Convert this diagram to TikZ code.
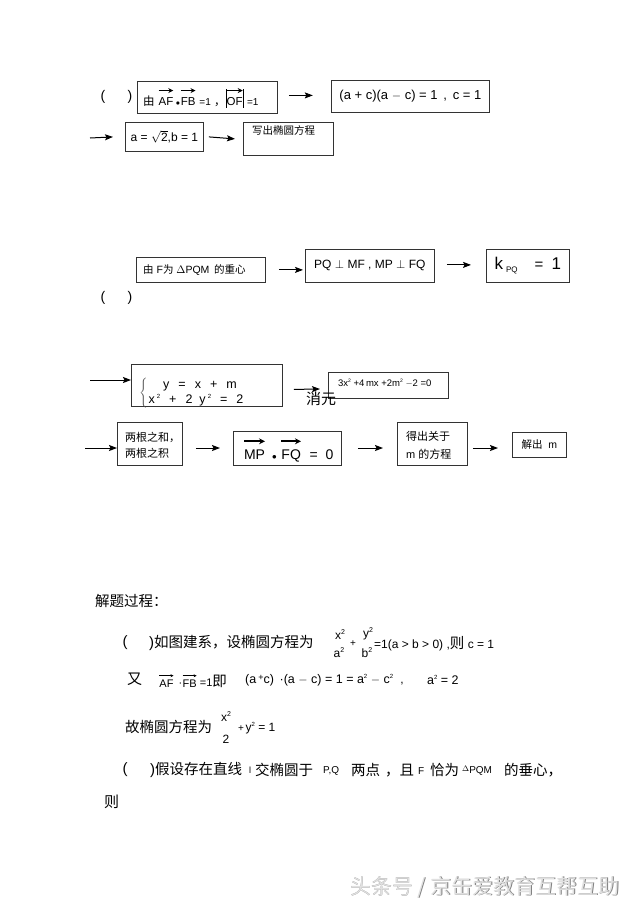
\documentclass[tikz,border=0pt]{standalone}
\usepackage{fontspec}
\setmainfont{Liberation Sans}
\newfontfamily\cjk{Noto Sans CJK SC}
\usetikzlibrary{arrows.meta}
\newcommand{\fs}[1]{\fontsize{#1}{#1}\selectfont}
\newsavebox\vecbox
\newcommand{\bvec}[4]{\sbox\vecbox{#1}\begin{tabular}[b]{@{}c@{}}\tikz[x=1pt,y=1pt]\draw[line width=#2pt,-{Stealth[length=#3pt,width=#3pt]}](0,0)--(\the\wd\vecbox,0);\\[#4pt]\usebox\vecbox\end{tabular}}
\begin{document}
\begin{tikzpicture}[x=1pt,y=-1pt,
  box/.style={draw=black!80, line width=0.8pt, inner sep=0pt, anchor=north west},
  arr/.style={-{Stealth[length=8pt,width=6pt,inset=1.5pt]}, line width=1pt},
  txt/.style={inner sep=0pt, anchor=west},
  ctx/.style={inner sep=0pt}]
\useasboundingbox[fill=white] (0,0) rectangle (640,906);

% ---------- top flow ----------
\node[ctx] (p1a) at (103,97) {\fs{14}(};
\node[ctx] (p1b) at (130,97) {\fs{14})};
\node[box, minimum width=140pt, minimum height=32pt] (b1) at (137,81) {};
\node[txt] (t1) at (143,97) {\fs{11.5}\raisebox{-6pt}{{\cjk 由} \bvec{AF}{1.4}{5}{1}\,{\fs{8}$\bullet$}\bvec{FB}{1.4}{5}{1}\ {\fs{10}=1}\ {\cjk ，}\rule[-2pt]{0.5pt}{19pt}\bvec{OF}{1.4}{5}{1}\rule[-2pt]{0.5pt}{19pt}\ {\fs{10}=1}}};
\node[box, minimum width=158pt, minimum height=32pt] (b2) at (331,80)
  {\fs{13}(a + c)(a $-$ c) = 1 \,, \,c = 1};
\draw[arr] ([xshift=11pt,yshift=2pt]b1.east) -- ++(24,0);

\coordinate (s2) at (90,138);
\node[box, minimum width=78pt, minimum height=29pt] (b3) at (125,122)
  {\fs{12}\raisebox{-4pt}{a = $\sqrt{\hbox{2}}$,b = 1}};
\node[box, minimum width=90pt, minimum height=33pt] (b4) at (243,122) {};
\node[txt, anchor=north west] (t4) at (252,125) {\cjk\fs{10.5}写出椭圆方程};
\draw[arr] (s2) -- (b3.west -| 113,138);
\draw[arr] ([xshift=5pt]b3.east) -- (b4.west -| 235,138);

% ---------- middle flow ----------
\node[box, minimum width=129pt, minimum height=25pt] (b5) at (136,257) {};
\node[txt] (t5) at (143,270) {\fs{10.5}{\cjk 由} F{\cjk 为} $\Delta$PQM \,{\cjk 的重心}};
\node[box, minimum width=129pt, minimum height=33pt] (b6) at (305,249)
  {\fs{12}PQ $\perp$ MF , MP $\perp$ FQ};
\node[box, minimum width=83pt, minimum height=33pt] (b7) at (486,249)
  {\fs{17}k\,\raisebox{-3pt}{\fs{8}PQ}\quad\fs{15}=\ \ \fs{17}1};
\draw[arr] ([xshift=13pt]b5.east) -- ([xshift=-2pt]b5.east -| b6.west);
\draw[arr] ([xshift=12pt,yshift=1pt]b6.east) -- ([xshift=-15pt,yshift=1pt]b7.west);
\node[ctx] (p2a) at (103,298) {\fs{14}(};
\node[ctx] (p2b) at (130,298) {\fs{14})};

% ---------- lower flow ----------
\coordinate (s3) at (90,380);
\node[box, minimum width=151pt, minimum height=42pt] (b8) at (131,364) {};
\node[ctx, text=black!70] (br) at (144,393) {\fs{12}$\left\{\rule[-12pt]{0pt}{25pt}\right.$};
\node[ctx] (e1) at (200,386) {\fs{12.5}y \ \,= \ \,x \ \,+ \ \,m};
\node[ctx] (e2) at (196,400) {\fs{12.5}x\,\raisebox{5pt}{\fs{6}2} \ \,+ \ \,2 \ y\,\raisebox{5pt}{\fs{6}2} \ \,= \ \,2};
\draw[arr] (s3) -- (b8.west |- 115,380);
\node[box, minimum width=120pt, minimum height=26pt] (b9) at (328,372) {};
\node[txt] (t9) at (338,383) {\fs{9.5}3x\raisebox{4pt}{\fs{5}2} +4\,mx +2m\raisebox{4pt}{\fs{5}2} $-$2 =0};
\draw[arr] ([xshift=11pt,yshift=-4pt]b8.east) -- ([xshift=-8pt]b9.west |- 0,389);
\node[ctx] (xy) at (321,399) {\cjk\fs{15}消元};

\coordinate (s4) at (85,448);
\node[box, minimum width=65pt, minimum height=43pt] (b10) at (117,422) {};
\node[txt, align=left] (t10) at (125,445) {\cjk\fs{11}两根之和，\\[4pt]\cjk\fs{11}两根之积};
\node[box, minimum width=108pt, minimum height=34pt] (b11) at (233,431) {};
\node[txt] (t11) at (243,449) {\fs{14}\raisebox{-5pt}{\bvec{MP}{1.7}{6}{1}\ \,{\fs{9}$\bullet$}\ \bvec{FQ}{1.7}{6}{1}\ \ =\ \ 0}};
\node[box, minimum width=70pt, minimum height=43pt] (b12) at (397,422) {};
\node[txt, align=left] (t12) at (406,445) {\cjk\fs{11}得出关于\\[6pt]\fs{11}m {\cjk 的方程}};
\node[box, minimum width=54pt, minimum height=25pt] (b13) at (512,432)
  {\fs{10.5}{\cjk 解出} \ m};
\draw[arr] (s4) -- (b10.west |- 113,448);
\draw[arr] ([xshift=13pt]b10.east |- 0,448) -- ([xshift=-13pt]b11.west |- 0,448);
\draw[arr] ([xshift=16pt]b11.east |- 0,448) -- ([xshift=-14pt]b12.west |- 0,448);
\draw[arr] ([xshift=5pt]b12.east |- 0,448) -- ([xshift=-14pt]b13.west |- 0,448);

% ---------- solution text ----------
\node[txt] (h) at (95,601) {\cjk\fs{14.5}解题过程：};

\node[ctx] (l1a) at (125,643) {\fs{15}(};
\node[txt] (l1b) at (149,643) {\fs{15})\cjk\fs{14.5}如图建系，设椭圆方程为};
\node[ctx] (f1n) at (340,635) {\fs{12}x\raisebox{5pt}{\fs{7}2}};
\node[ctx] (f1d) at (339,653) {\fs{12}a\raisebox{5pt}{\fs{7}2}};
\node[ctx] (f1p) at (353,644) {\fs{10}+};
\node[ctx] (f2n) at (368,634) {\fs{12}y\raisebox{5pt}{\fs{7}2}};
\node[ctx] (f2d) at (367,653) {\fs{12}b\raisebox{5pt}{\fs{7}2}};
\node[txt] (l1c) at (374,644) {\fs{12}=1(a > b > 0) ,{\cjk\fs{14.5}则} c = 1};

\node[txt] (l2a) at (127,679) {\cjk\fs{15}又};
\node[txt] (l2b) at (159,680) {\fs{11}\raisebox{-1pt}{\bvec{AF}{0.5}{3}{-1}}\ \,·\raisebox{-1pt}{\bvec{FB}{0.5}{3}{-1}} =1{\cjk\fs{14.5}即}};
\node[txt] (l2c) at (245,680) {\fs{12.5}(a\,\raisebox{3pt}{\fs{9}+}c) \,·(a $-$ c) = 1 = a\raisebox{5pt}{\fs{6}2} $-$ c\raisebox{5pt}{\fs{6}2}};
\node[ctx] (l2d) at (402,684) {\fs{12},};
\node[txt] (l2e) at (427,680) {\fs{12.5}a\raisebox{5pt}{\fs{6}2} = 2};

\node[txt] (l3a) at (125,727) {\cjk\fs{14.5}故椭圆方程为};
\node[ctx] (f3n) at (226,717) {\fs{12}x\raisebox{5pt}{\fs{7}2}};
\node[ctx] (f3d) at (226,739) {\fs{12}2};
\node[txt] (l3b) at (238,728) {\fs{10}+\,\fs{12}y\raisebox{5pt}{\fs{6}2} = 1};

\node[ctx] (l4a) at (125,770) {\fs{15}(};
\node[txt] (l4b) at (150,770) {\fs{15})\cjk\fs{14.5}假设存在直线};
\node[ctx] (l4c) at (250,770) {\fs{9}l};
\node[txt] (l4d) at (255,770) {\cjk\fs{14.5}交椭圆于};
\node[txt] (l4e) at (323,771) {\fs{10}P,Q};
\node[txt] (l4f) at (351,770) {\cjk\fs{14.5}两点\hspace{5pt}，且};
\node[txt] (l4h) at (418,771) {\fs{10}F};
\node[txt] (l4i) at (430,770) {\cjk\fs{14.5}恰为};
\node[txt] (l4j) at (462,771) {\fs{10}\raisebox{2pt}{\fs{8}$\Delta$}PQM};
\node[txt] (l4k) at (504,770) {\cjk\fs{14.5}的垂心，};

\node[txt] (l5) at (104,802) {\cjk\fs{15}则};

% ---------- watermark ----------
\node[ctx, text=black!50] (wms) at (485.8,887.8) {\cjk\fs{21}头条号 / 京缶爱教育互帮互助};
\node[ctx, text=black!12] (wm) at (485,887) {\cjk\fs{21}头条号 / 京缶爱教育互帮互助};
\end{tikzpicture}
\end{document}
